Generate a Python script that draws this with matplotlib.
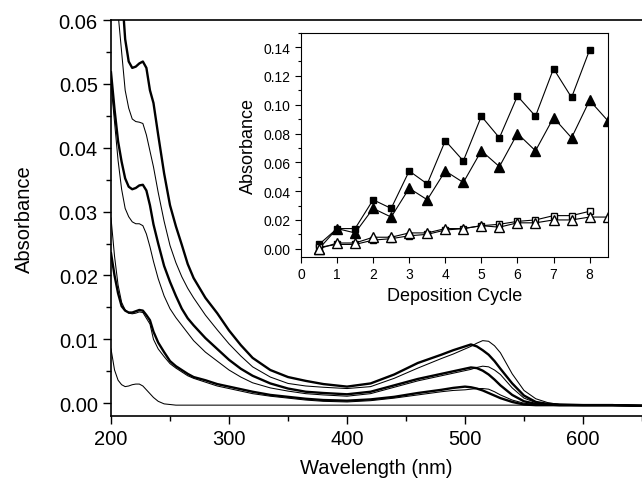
import numpy as np
import matplotlib
matplotlib.use("Agg")
import matplotlib.pyplot as plt
from matplotlib.ticker import MultipleLocator

plt.rcParams['font.family'] = ['Liberation Sans', 'DejaVu Sans']

# spectra (wavelength in nm, absorbance)
wl = [200, 203, 206, 209, 212, 215, 218, 221, 224, 227, 230, 233, 236, 240, 245,
      250, 255, 260, 265, 270, 280, 290, 300, 310, 320, 335, 350, 365, 380, 400,
      420, 440, 460, 480, 490, 500, 505, 510, 515, 520, 525, 530, 540, 550, 560,
      570, 580, 600, 625, 650]

c1 = [0.100, 0.088, 0.076, 0.065, 0.057, 0.0535, 0.0525, 0.0527, 0.0532, 0.0535, 0.0525, 0.049, 0.047, 0.042, 0.036,
      0.031, 0.0277, 0.0248, 0.0218, 0.0196, 0.0165, 0.0141, 0.0114, 0.0091, 0.0071, 0.0052, 0.0041, 0.0035, 0.0030, 0.0026,
      0.0031, 0.0045, 0.0063, 0.0076, 0.0083, 0.0089, 0.0092, 0.0089, 0.0083, 0.0076, 0.0066, 0.0054, 0.0031, 0.0012, 0.0002,
      -0.0001, -0.0002, -0.0003, -0.0003, -0.0004]
c2 = [0.080, 0.068, 0.061, 0.055, 0.049, 0.0462, 0.0445, 0.0441, 0.0440, 0.0438, 0.042, 0.0395, 0.037, 0.033, 0.0285,
      0.0247, 0.0220, 0.0198, 0.0180, 0.0165, 0.0138, 0.0115, 0.0093, 0.0074, 0.0057, 0.0041, 0.0031, 0.0027, 0.0025, 0.0023,
      0.0026, 0.0039, 0.0055, 0.0070, 0.0077, 0.0085, 0.0089, 0.0094, 0.0098, 0.0097, 0.0090, 0.0079, 0.0046, 0.0020, 0.0007,
      0.0001, -0.0002, -0.0003, -0.0003, -0.0004]
c3 = [0.0518, 0.046, 0.041, 0.0378, 0.0352, 0.0339, 0.0335, 0.0337, 0.0341, 0.0342, 0.0333, 0.031, 0.028, 0.0250, 0.0215,
      0.0190, 0.0168, 0.0148, 0.0133, 0.0122, 0.0102, 0.0085, 0.0068, 0.0054, 0.0043, 0.0031, 0.0023, 0.0018, 0.0016, 0.0014,
      0.0018, 0.0028, 0.0038, 0.0046, 0.0050, 0.0054, 0.0056, 0.0055, 0.0051, 0.0045, 0.0037, 0.0028, 0.0013, 0.0003, -0.0001,
      -0.0002, -0.0003, -0.0003, -0.0003, -0.0004]
c4 = [0.050, 0.044, 0.038, 0.0335, 0.0305, 0.0292, 0.0284, 0.0281, 0.0281, 0.0278, 0.0265, 0.0245, 0.0222, 0.0195, 0.0168,
      0.0148, 0.0134, 0.0122, 0.0110, 0.0098, 0.0080, 0.0066, 0.0052, 0.0041, 0.0032, 0.0024, 0.0019, 0.0015, 0.0013, 0.0011,
      0.0015, 0.0025, 0.0035, 0.0043, 0.0047, 0.0051, 0.0053, 0.0056, 0.0058, 0.0057, 0.0052, 0.0045, 0.0024, 0.0008, 0.0001,
      -0.0002, -0.0003, -0.0003, -0.0003, -0.0004]
c5 = [0.0235, 0.020, 0.0172, 0.0152, 0.0145, 0.0142, 0.0142, 0.0144, 0.0146, 0.0145, 0.0138, 0.0130, 0.0112, 0.0095, 0.0080,
      0.0066, 0.0058, 0.0052, 0.0046, 0.0041, 0.0036, 0.0030, 0.0026, 0.0022, 0.0018, 0.0013, 0.0010, 0.0007, 0.0005, 0.0004,
      0.0006, 0.0010, 0.0016, 0.0021, 0.0024, 0.0026, 0.0025, 0.0023, 0.0020, 0.0016, 0.0012, 0.0008, 0.0002, -0.0002, -0.0003,
      -0.0003, -0.0003, -0.0003, -0.0003, -0.0004]
c6 = [0.029, 0.023, 0.0185, 0.0158, 0.0146, 0.0141, 0.0140, 0.0141, 0.0143, 0.0142, 0.0133, 0.0124, 0.0100, 0.0085, 0.0073,
      0.0062, 0.0055, 0.0049, 0.0043, 0.0039, 0.0033, 0.0027, 0.0023, 0.0019, 0.0015, 0.0011, 0.0008, 0.0005, 0.0003, 0.0002,
      0.0004, 0.0008, 0.0013, 0.0018, 0.0020, 0.0021, 0.0022, 0.0023, 0.0023, 0.0022, 0.0018, 0.0013, 0.0005, 0.0000, -0.0002,
      -0.0003, -0.0003, -0.0003, -0.0003, -0.0004]
c7 = [0.0085, 0.0052, 0.0036, 0.0029, 0.0026, 0.0027, 0.0029, 0.0030, 0.0030, 0.0027, 0.0021, 0.0015, 0.0009, 0.0003, -0.0001,
      -0.0002, -0.0003, -0.0003, -0.0003, -0.0003, -0.0003, -0.0003, -0.0003, -0.0003, -0.0003, -0.0003, -0.0003, -0.0003, -0.0003, -0.0003,
      -0.0003, -0.0003, -0.0003, -0.0003, -0.0003, -0.0003, -0.0003, -0.0003, -0.0003, -0.0003, -0.0003, -0.0003, -0.0003, -0.0003, -0.0003,
      -0.0003, -0.0003, -0.0003, -0.0003, -0.0004]

spectra = [c1, c2, c3, c4, c5, c6, c7]
thick = [True, False, True, False, True, False, False]

# inset data
cyc_sq = [0.5, 1, 1.5, 2, 2.5, 3, 3.5, 4, 4.5, 5, 5.5, 6, 6.5, 7, 7.5, 8]
cyc_tr = [0.5, 1, 1.5, 2, 2.5, 3, 3.5, 4, 4.5, 5, 5.5, 6, 6.5, 7, 7.5, 8, 8.5]
sq_filled = [0.003, 0.014, 0.014, 0.034, 0.028, 0.054, 0.045, 0.075, 0.061, 0.092, 0.077, 0.106, 0.092, 0.125, 0.105, 0.138]
tr_filled = [0.000, 0.014, 0.011, 0.028, 0.022, 0.042, 0.034, 0.054, 0.046, 0.068, 0.057, 0.080, 0.068, 0.091, 0.077, 0.103, 0.089]
sq_open = [0.001, 0.003, 0.003, 0.006, 0.007, 0.009, 0.010, 0.013, 0.014, 0.016, 0.017, 0.019, 0.020, 0.023, 0.023, 0.026]
tr_open = [0.000, 0.004, 0.004, 0.008, 0.008, 0.011, 0.011, 0.014, 0.014, 0.016, 0.015, 0.018, 0.018, 0.020, 0.020, 0.022, 0.022]

fig = plt.figure(figsize=(6.42, 4.85), dpi=100)
ax = fig.add_axes([0.1729, 0.1402, 0.8271, 0.8165])

for y, tk in zip(spectra, thick):
    ax.plot(wl, y, color='black', lw=1.7 if tk else 0.75)

ax.set_xlim(200, 650)
ax.set_ylim(-0.002, 0.06)
ax.xaxis.set_major_locator(MultipleLocator(100))
ax.xaxis.set_minor_locator(MultipleLocator(50))
ax.yaxis.set_major_locator(MultipleLocator(0.01))
ax.yaxis.set_minor_locator(MultipleLocator(0.005))
ax.yaxis.set_major_formatter(plt.FormatStrFormatter('%.2f'))
ax.tick_params(which='major', direction='out', length=6, width=1, labelsize=14.5)
ax.tick_params(which='minor', direction='out', length=3.5, width=1)
ax.spines['right'].set_visible(False)
for s in ['left', 'bottom', 'top']:
    ax.spines[s].set_linewidth(1.2)
ax.set_xlabel('Wavelength (nm)', fontsize=14.5, labelpad=7)
ax.set_ylabel('Absorbance', fontsize=14.5, labelpad=18)

# inset
ins = fig.add_axes([0.4688, 0.4687, 0.4777, 0.4619])
ins.plot(cyc_sq, sq_filled, color='black', lw=0.8, marker='s', ms=5, mfc='black', mec='black')
ins.plot(cyc_tr, tr_filled, color='black', lw=0.8, marker='^', ms=6.5, mfc='black', mec='black')
ins.plot(cyc_sq, sq_open, color='black', lw=0.8, marker='s', ms=5, mfc='white', mec='black')
ins.plot(cyc_tr, tr_open, color='black', lw=0.8, marker='^', ms=6.5, mfc='white', mec='black')
ins.set_xlim(0, 8.5)
ins.set_ylim(-0.0055, 0.15)
ins.xaxis.set_major_locator(MultipleLocator(1))
ins.yaxis.set_major_locator(MultipleLocator(0.02))
ins.yaxis.set_minor_locator(MultipleLocator(0.01))
ins.yaxis.set_major_formatter(plt.FormatStrFormatter('%.2f'))
ins.tick_params(which='major', direction='out', length=4, width=0.8, labelsize=10)
ins.tick_params(which='minor', direction='out', length=2, width=0.8)
for s in ins.spines.values():
    s.set_linewidth(0.8)
ins.set_xlabel('Deposition Cycle', fontsize=13, labelpad=4)
ins.set_ylabel('Absorbance', fontsize=13, labelpad=5)

fig.savefig('out.png', dpi=100)
